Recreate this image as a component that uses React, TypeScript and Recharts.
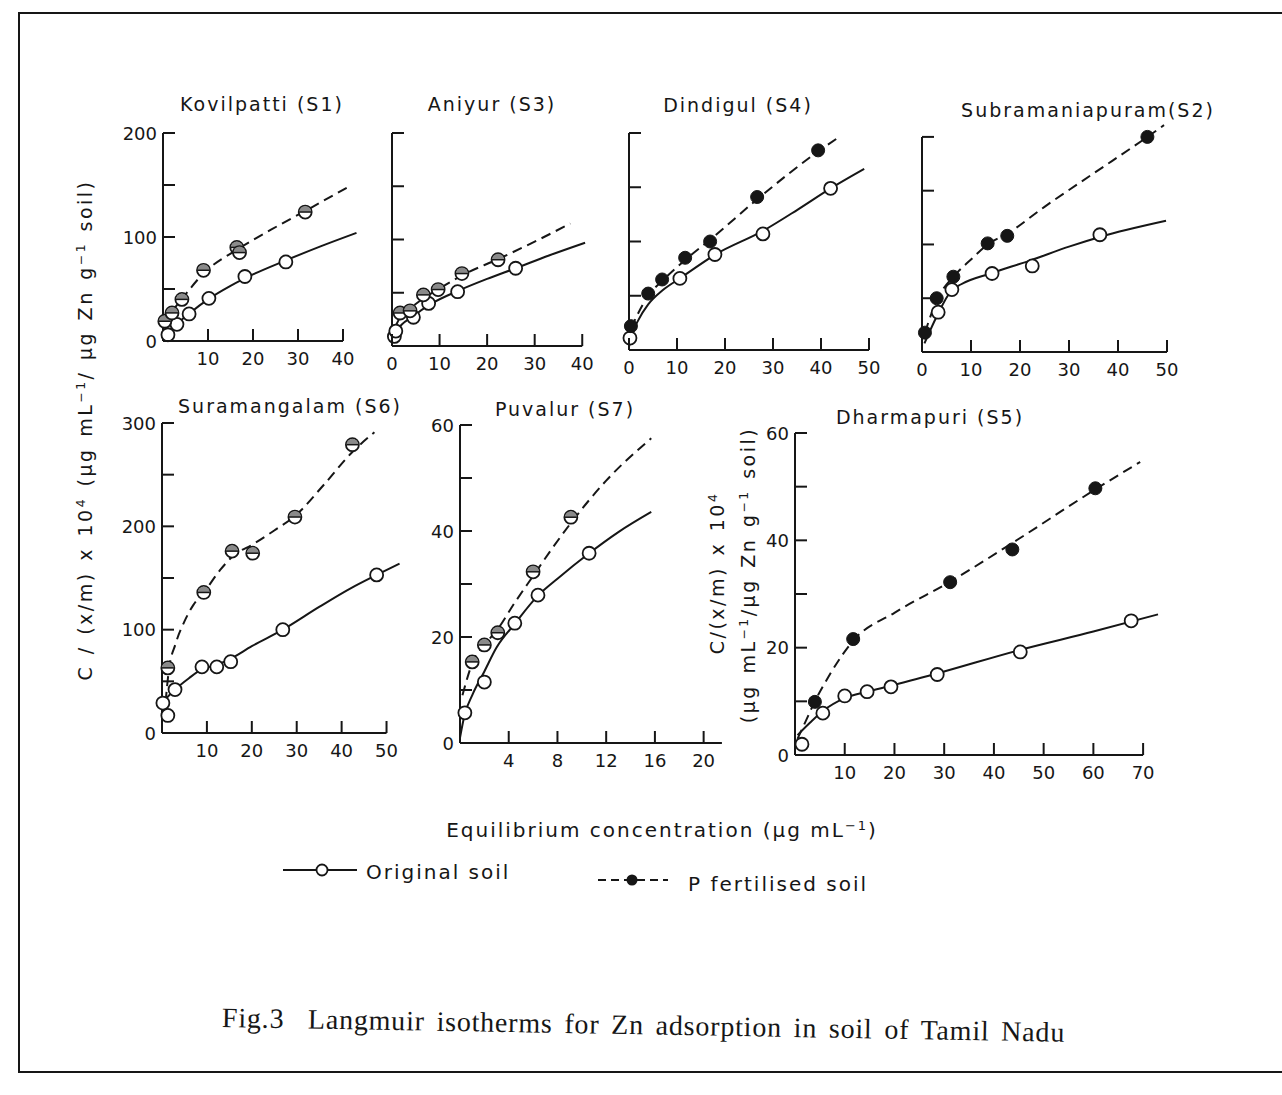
import React from 'react';
import { ScatterChart, Scatter, XAxis, YAxis, ReferenceLine } from 'recharts';

type Pt = { x: number; y: number };
const pts = (rows: number[][]): Pt[] => rows.map(([x, y]) => ({ x, y }));

const INK = '#161616';
const SANS = '"DejaVu Sans", "Liberation Sans", sans-serif';

// Kovilpatti (S1)
const s1Original = pts([[1.1, 6], [3.1, 16], [5.8, 26], [10.2, 41], [18.2, 62], [27.3, 76]]);
const s1Fertilised = pts([[0.4, 19], [2, 27], [4.2, 40], [9, 68], [16.4, 90], [17, 85], [31.6, 124]]);
const s1OriginalCurve = pts([[0.2, 1], [1, 7], [3, 16], [6, 27], [10, 40], [15, 53], [20, 64], [27, 77], [35, 91], [43, 104]]);
const s1FertilisedCurve = pts([[0, 14], [2, 28], [4.5, 42], [9, 65], [16.5, 88], [24, 107], [32, 126], [41.5, 149]]);

// Aniyur (S3)
const s3Original = pts([[0.5, 9], [0.8, 14], [4.5, 27], [7.7, 40], [13.8, 51], [26, 73]]);
const s3Fertilised = pts([[1.7, 31], [3.8, 33], [6.6, 48], [9.7, 53], [14.7, 68], [22.3, 81]]);
const s3OriginalCurve = pts([[0, 4], [1, 14], [4.5, 28], [8, 39], [14, 52], [20, 63], [26, 73], [33, 85], [40.6, 97]]);
const s3FertilisedCurve = pts([[0.5, 16], [2, 29], [4, 36], [7, 46], [10, 54], [15, 67], [22, 81], [30, 98], [37.5, 115]]);

// Dindigul (S4)
const s4Original = pts([[0.2, 11], [10.6, 66], [17.9, 88], [27.9, 107], [42, 149]]);
const s4Fertilised = pts([[0.4, 22], [4, 52], [6.9, 65], [11.7, 85], [16.9, 100], [26.7, 141], [39.4, 184]]);
const s4OriginalCurve = pts([[0, 3], [0.5, 13], [2, 28], [4, 42], [7, 55], [10.6, 66], [18, 88], [28, 110], [35, 129], [42, 149], [49, 167]]);
const s4FertilisedCurve = pts([[0.4, 20], [4, 50], [7, 64], [11.7, 83], [17, 102], [27, 140], [39.4, 183], [44, 197]]);

// Subramaniapuram (S2)
const s2Original = pts([[3.3, 37], [6.1, 58], [14.3, 73], [22.5, 80], [36.3, 109]]);
const s2Fertilised = pts([[0.6, 18], [3, 50], [6.4, 70], [13.4, 101], [17.4, 108], [46, 200]]);
const s2OriginalCurve = pts([[0.5, 8], [3, 33], [6, 57], [8, 63], [14, 73], [22, 85], [30, 98], [36.3, 107], [49.8, 122]]);
const s2FertilisedCurve = pts([[0.6, 18], [3, 48], [6.4, 70], [10, 86], [13.4, 100], [17.4, 110], [25, 135], [35, 166], [46, 200], [49.4, 211]]);

// Suramangalam (S6)
const s6Original = pts([[0.2, 29], [1.3, 17], [2.9, 42], [8.9, 64], [12.2, 64], [15.3, 69], [26.9, 100], [47.8, 153]]);
const s6Fertilised = pts([[1.3, 63], [9.3, 136], [15.6, 176], [20.2, 174], [29.6, 209], [42.4, 279]]);
const s6OriginalCurve = pts([[0, 29], [2.9, 42], [6, 53], [9, 62], [12.2, 66], [15.3, 72], [20, 84], [26.9, 100], [35, 122], [42, 140], [47.8, 153], [52.9, 164]]);
const s6FertilisedCurve = pts([[0.8, 30], [1.5, 60], [3, 86], [5, 108], [7, 124], [9.3, 136], [13, 158], [16, 172], [20, 182], [25, 196], [29.6, 210], [36, 240], [42.4, 272], [47.3, 291]]);

// Puvalur (S7)
const s7Original = pts([[0.4, 5.7], [2, 11.5], [4.5, 22.6], [6.4, 27.9], [10.6, 35.8]]);
const s7Fertilised = pts([[1, 15.3], [2, 18.5], [3.1, 20.8], [6, 32.3], [9.1, 42.6]]);
const s7OriginalCurve = pts([[0, 1], [0.4, 5.5], [1, 9], [2, 13.5], [3, 18], [4.5, 22.5], [6.4, 27.8], [8, 31], [10.6, 35.8], [13, 39.8], [15.7, 43.6]]);
const s7FertilisedCurve = pts([[0.2, 9], [1, 15], [2, 18.5], [3.1, 21.5], [4.5, 26.5], [6, 31.5], [7.5, 36.5], [9.1, 41.5], [12, 49.5], [15.7, 57.5]]);

// Dharmapuri (S5)
const s5Original = pts([[1.4, 2], [5.6, 7.8], [10, 11], [14.5, 11.8], [19.3, 12.7], [28.6, 15], [45.3, 19.2], [67.6, 25]]);
const s5Fertilised = pts([[4, 9.9], [11.7, 21.6], [31.2, 32.2], [43.7, 38.3], [60.4, 49.7]]);
const s5OriginalCurve = pts([[0.5, 3.7], [3, 6], [5.6, 8.2], [10, 10.6], [14.5, 11.8], [19.3, 12.9], [28.6, 15.2], [45.3, 19.6], [60, 23], [73, 26.2]]);
const s5FertilisedCurve = pts([[0.5, 3], [2, 6], [4, 10], [7, 15], [11.7, 21.3], [20, 26.5], [31.2, 32.3], [43.7, 39.5], [60.4, 49.5], [69.4, 54.6]]);

// tick values per panel
const ticks40 = [10, 20, 30, 40];
const ticks0to40 = [0, 10, 20, 30, 40];
const ticks0to50 = [0, 10, 20, 30, 40, 50];
const ticks10to50 = [10, 20, 30, 40, 50];
const ticksPuvalur = [4, 8, 12, 16, 20];
const ticks10to70 = [10, 20, 30, 40, 50, 60, 70];
const yTicks200 = [0, 50, 100, 150, 200];
const yLabels200 = [0, 100, 200];
const yTicks300 = [0, 50, 100, 150, 200, 250, 300];
const yLabels300 = [0, 100, 200, 300];
const yTicks60 = [0, 10, 20, 30, 40, 50, 60];
const yLabels60 = [0, 20, 40, 60];

const OpenDot = (p: any) => (
  <circle cx={p.cx} cy={p.cy} r={6.5} fill="#fff" stroke={INK} strokeWidth={1.8} />
);
const FilledDot = (p: any) => <circle cx={p.cx} cy={p.cy} r={6.5} fill={INK} stroke={INK} strokeWidth={1} />;
// the blurred half-shaded symbols of the scan
const ShadedDot = (p: any) => (
  <g>
    <circle cx={p.cx} cy={p.cy} r={6.5} fill="#fff" stroke={INK} strokeWidth={1.8} />
    <path d={`M${p.cx - 6} ${p.cy} A6 6 0 0 1 ${p.cx + 6} ${p.cy} Z`} fill="#8a8a8a" />
    <line x1={p.cx - 6} y1={p.cy} x2={p.cx + 6} y2={p.cy} stroke={INK} strokeWidth={1.5} />
  </g>
);
const NoDot = () => <g />;

const tickFont = { fontFamily: SANS, fontSize: 18 };

const XTick = ({ x, y, payload, labels }: any) => (
  <g>
    <line x1={x} y1={y} x2={x} y2={y - 12} stroke={INK} strokeWidth={2} />
    {labels.includes(payload.value) && (
      <text x={x} y={y + 17} textAnchor="middle" dominantBaseline="central" fill={INK} style={tickFont}>
        {payload.value}
      </text>
    )}
  </g>
);

const YTick = ({ x, y, payload, labels }: any) => (
  <g>
    <line x1={x} y1={y} x2={x + 12} y2={y} stroke={INK} strokeWidth={2} />
    {labels.includes(payload.value) && (
      <text x={x - 6} y={y} textAnchor="end" dominantBaseline="central" fill={INK} style={tickFont}>
        {payload.value}
      </text>
    )}
  </g>
);

interface PanelProps {
  left: number; top: number; plotW: number; plotH: number;
  xDomain: [number, number]; yDomain: [number, number];
  xTicks: number[]; xLabels: number[]; yTicks: number[]; yLabels: number[];
  xEnd: number; yEnd: number;
  original: Pt[]; fertilised: Pt[]; originalCurve: Pt[]; fertilisedCurve: Pt[];
  filled?: boolean;
}

const Panel = (p: PanelProps) => {
  const width = p.plotW + 70;
  const height = p.plotH + 60;
  return (
    <div style={{ position: 'absolute', left: p.left - 50, top: p.top - 20 }}>
      <ScatterChart width={width} height={height} margin={{ top: 20, right: 20, bottom: 0, left: 0 }}>
        <XAxis type="number" dataKey="x" domain={p.xDomain} ticks={p.xTicks} interval={0}
          axisLine={false} tickLine={false} tickSize={0} tickMargin={0} height={40}
          tick={(t: any) => <XTick {...t} labels={p.xLabels} />} />
        <YAxis type="number" dataKey="y" domain={p.yDomain} ticks={p.yTicks} interval={0}
          axisLine={false} tickLine={false} tickSize={0} tickMargin={0} width={50}
          tick={(t: any) => <YTick {...t} labels={p.yLabels} />} />
        <ReferenceLine segment={[{ x: 0, y: 0 }, { x: p.xEnd, y: 0 }]} stroke={INK} strokeWidth={2} />
        <ReferenceLine segment={[{ x: 0, y: 0 }, { x: 0, y: p.yEnd }]} stroke={INK} strokeWidth={2} />
        <Scatter data={p.originalCurve} line={{ stroke: INK, strokeWidth: 2 }} lineJointType="monotoneX"
          shape={NoDot} isAnimationActive={false} />
        <Scatter data={p.fertilisedCurve} line={{ stroke: INK, strokeWidth: 2, strokeDasharray: '10 6' }}
          lineJointType="monotoneX" shape={NoDot} isAnimationActive={false} />
        <Scatter data={p.original} shape={OpenDot} isAnimationActive={false} />
        <Scatter data={p.fertilised} shape={p.filled ? FilledDot : ShadedDot} isAnimationActive={false} />
      </ScatterChart>
    </div>
  );
};

const Title = ({ x, y, children }: any) => (
  <div style={{ position: 'absolute', left: x, top: y, transform: 'translate(-50%, -50%)', whiteSpace: 'nowrap',
    fontFamily: SANS, fontSize: 19, letterSpacing: 2, color: INK }}>{children}</div>
);

const Vertical = ({ x, y, children }: any) => (
  <div style={{ position: 'absolute', left: x, top: y, transform: 'translate(-50%, -50%) rotate(-90deg)',
    whiteSpace: 'nowrap', fontFamily: SANS, fontSize: 19, letterSpacing: 2.5, wordSpacing: 2, color: INK }}>{children}</div>
);

const sup: React.CSSProperties = { fontSize: '0.65em', verticalAlign: '0.6em' };
const textLine: React.CSSProperties = { position: 'absolute', whiteSpace: 'nowrap', fontFamily: SANS, fontSize: 20, letterSpacing: 2, color: INK };

export default function App() {
  return (
    <div style={{ position: 'absolute', left: 0, top: 0, width: 1282, height: 1095, overflow: 'hidden', background: '#fff' }}>
      <div style={{ position: 'absolute', left: 18, top: 12, width: 1300, height: 1061, border: `2px solid ${INK}`, boxSizing: 'border-box' }} />

      <Panel left={163} top={133} plotW={198} plotH={208} xDomain={[0, 44]} yDomain={[0, 200]}
        xTicks={ticks40} xLabels={ticks40} yTicks={yTicks200} yLabels={yLabels200} xEnd={40} yEnd={200}
        original={s1Original} fertilised={s1Fertilised} originalCurve={s1OriginalCurve} fertilisedCurve={s1FertilisedCurve} />
      <Panel left={392} top={133} plotW={195} plotH={213} xDomain={[0, 41]} yDomain={[0, 200]}
        xTicks={ticks0to40} xLabels={ticks0to40} yTicks={yTicks200} yLabels={[]} xEnd={40} yEnd={200}
        original={s3Original} fertilised={s3Fertilised} originalCurve={s3OriginalCurve} fertilisedCurve={s3FertilisedCurve} />
      <Panel left={629} top={133} plotW={240} plotH={217} xDomain={[0, 50]} yDomain={[0, 200]}
        xTicks={ticks0to50} xLabels={ticks0to50} yTicks={yTicks200} yLabels={[]} xEnd={50} yEnd={200} filled
        original={s4Original} fertilised={s4Fertilised} originalCurve={s4OriginalCurve} fertilisedCurve={s4FertilisedCurve} />
      <Panel left={922} top={124} plotW={245} plotH={228} xDomain={[0, 50]} yDomain={[0, 212]}
        xTicks={ticks0to50} xLabels={ticks0to50} yTicks={yTicks200} yLabels={[]} xEnd={50} yEnd={200} filled
        original={s2Original} fertilised={s2Fertilised} originalCurve={s2OriginalCurve} fertilisedCurve={s2FertilisedCurve} />
      <Panel left={162} top={423} plotW={238} plotH={310} xDomain={[0, 53]} yDomain={[0, 300]}
        xTicks={ticks10to50} xLabels={ticks10to50} yTicks={yTicks300} yLabels={yLabels300} xEnd={50} yEnd={300}
        original={s6Original} fertilised={s6Fertilised} originalCurve={s6OriginalCurve} fertilisedCurve={s6FertilisedCurve} />
      <Panel left={460} top={425} plotW={268} plotH={318} xDomain={[0, 22]} yDomain={[0, 60]}
        xTicks={ticksPuvalur} xLabels={ticksPuvalur} yTicks={yTicks60} yLabels={yLabels60} xEnd={21.5} yEnd={60}
        original={s7Original} fertilised={s7Fertilised} originalCurve={s7OriginalCurve} fertilisedCurve={s7FertilisedCurve} />
      <Panel left={795} top={433} plotW={368} plotH={322} xDomain={[0, 74]} yDomain={[0, 60]}
        xTicks={ticks10to70} xLabels={ticks10to70} yTicks={yTicks60} yLabels={yLabels60} xEnd={70} yEnd={60} filled
        original={s5Original} fertilised={s5Fertilised} originalCurve={s5OriginalCurve} fertilisedCurve={s5FertilisedCurve} />

      <Title x={262} y={104}>Kovilpatti (S1)</Title>
      <Title x={492} y={104}>Aniyur (S3)</Title>
      <Title x={738} y={105}>Dindigul (S4)</Title>
      <Title x={1088} y={110}>Subramaniapuram(S2)</Title>
      <Title x={290} y={406}>Suramangalam (S6)</Title>
      <Title x={565} y={409}>Puvalur (S7)</Title>
      <Title x={930} y={417}>Dharmapuri (S5)</Title>

      <Vertical x={85} y={430}>
        C / (x/m) x 10<span style={sup}>4</span> (µg mL<span style={sup}>−1</span>/ µg Zn g<span style={sup}>−1</span> soil)
      </Vertical>
      <Vertical x={717} y={573}>C/(x/m) x 10<span style={sup}>4</span></Vertical>
      <Vertical x={748} y={575}>
        (µg mL<span style={sup}>−1</span>/µg Zn g<span style={sup}>−1</span> soil)
      </Vertical>

      <div style={{ ...textLine, left: 662, top: 830, transform: 'translate(-50%, -50%)' }}>
        Equilibrium concentration (µg mL<span style={sup}>−1</span>)
      </div>

      <svg style={{ position: 'absolute', left: 280, top: 855 }} width={400} height={40}>
        <line x1={3} y1={15} x2={77} y2={15} stroke={INK} strokeWidth={2} />
        <circle cx={42} cy={15} r={5.5} fill="#fff" stroke={INK} strokeWidth={1.8} />
        <line x1={318} y1={25} x2={388} y2={25} stroke={INK} strokeWidth={2} strokeDasharray="8 5" />
        <circle cx={352} cy={25} r={5.5} fill={INK} />
      </svg>
      <div style={{ ...textLine, left: 366, top: 872, transform: 'translateY(-50%)' }}>Original soil</div>
      <div style={{ ...textLine, left: 688, top: 884, transform: 'translateY(-50%)' }}>P fertilised soil</div>

      <div style={{ position: 'absolute', left: 222, top: 1002, transform: 'rotate(1deg)', transformOrigin: 'left center',
        whiteSpace: 'nowrap', fontFamily: '"Liberation Serif", "Times New Roman", serif', fontSize: 28,
        letterSpacing: 0.8, wordSpacing: 4, color: INK }}>
        Fig.3&nbsp; Langmuir isotherms for Zn adsorption in soil of Tamil Nadu
      </div>
    </div>
  );
}
